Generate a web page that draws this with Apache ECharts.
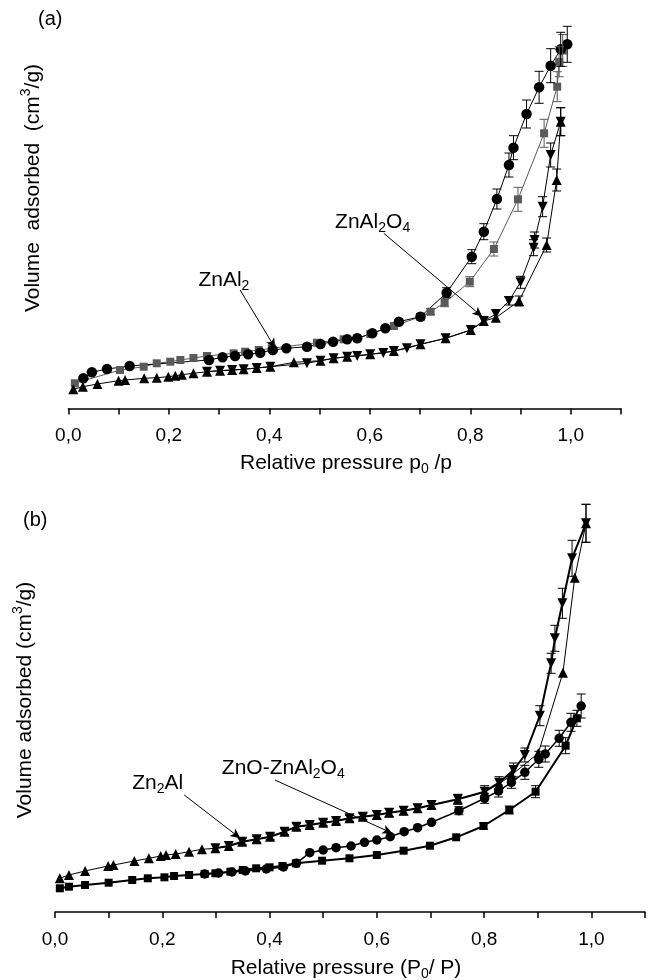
<!DOCTYPE html>
<html><head><meta charset="utf-8">
<script src="https://cdn.jsdelivr.net/npm/echarts@6/dist/echarts.min.js"></script>
<style>html,body{margin:0;padding:0;background:#fff}#c{width:648px;height:980px}</style>
</head><body><div id="c"></div>
<script>
// x tick labels (decimal comma)
const tickLabels = ['0,0','0,2','0,4','0,6','0,8','1,0'];

// Panel (a): [relative pressure, volume (arb. units), error]
const aZnAl2Circles = [[0.030,30.2,0],[0.047,36.2,0],[0.077,39.5,0],[0.122,42.5,0],[0.280,48.5,0],[0.307,51.2,0],[0.332,52.5,0],[0.358,54.2,0],[0.382,55.8,0],[0.407,58.5,0],[0.434,60.2,0],[0.475,61.8,0],[0.502,64.5,0],[0.527,66.8,0],[0.555,69.2,0],[0.575,70.2,0],[0.605,75.2,0],[0.631,80.2,0],[0.658,86.8,0],[0.701,91.8,3],[0.753,115.8,5],[0.803,151.8,7],[0.827,176.8,8],[0.853,209.5,10],[0.877,243.5,12],[0.886,260.8,12],[0.912,294.5,14],[0.937,321.2,16],[0.960,342.8,17],[0.980,359.2,17],[0.993,364.2,18]];
const aZnAl2Squares = [[0.013,25.2,0],[0.103,38.5,0],[0.150,41.8,0],[0.176,45.2,0],[0.203,46.8,0],[0.223,48.5,0],[0.249,50.5,0],[0.276,52.5,0],[0.329,55.2,0],[0.352,56.8,0],[0.379,58.5,0],[0.405,60.2,0],[0.495,65.8,0],[0.548,69.2,0],[0.575,70.2,0],[0.601,74.5,0],[0.648,82.5,0],[0.701,91.8,3],[0.721,96.8,3],[0.749,105.8,4],[0.799,126.8,5],[0.847,159.5,7],[0.895,209.2,12],[0.947,275.2,14],[0.973,321.8,15],[0.977,346.8,15],[0.984,358,16]];
const aZnAl2O4Up = [[0.010,19.2,0],[0.029,21.8,0],[0.058,24.5,0],[0.100,27.8,0],[0.113,28.5,0],[0.151,30.2,0],[0.176,30.8,0],[0.199,31.8,0],[0.213,32.8,0],[0.226,33.8,0],[0.249,35.2,0],[0.276,36.8,0],[0.302,37.8,0],[0.326,38.5,0],[0.349,39.2,0],[0.375,40.5,0],[0.402,41.8,0],[0.449,46.2,0],[0.502,47.8,0],[0.528,50.2,0],[0.555,51.8,0],[0.601,54.2,0],[0.648,57.5,0],[0.701,64.2,0],[0.751,70.2,0],[0.801,78.5,0],[0.827,87.5,0],[0.851,90.8,0],[0.897,107.5,5],[0.952,163.5,7],[0.972,228.5,11],[0.980,286.8,14]];
const aZnAl2O4Down = [[0.276,36.8,0],[0.302,37.8,0],[0.326,38.5,0],[0.349,39.2,0],[0.375,40.5,0],[0.402,41.8,0],[0.475,45.2,0],[0.502,47.8,0],[0.528,50.2,0],[0.555,51.8,0],[0.575,52.5,0],[0.601,54.2,0],[0.627,55.5,0],[0.648,57.5,0],[0.674,60.2,0],[0.701,64.2,0],[0.751,70.2,0],[0.801,78.5,0],[0.827,87.5,0],[0.851,94.5,0],[0.877,107.5,4],[0.900,126.2,6],[0.926,160.8,8],[0.928,168.5,8],[0.944,201.8,10],[0.960,253.5,12],[0.980,286.8,14]];

// Panel (b)
const bZnOSquares = [[0.009,23.7,0],[0.026,25.3,0],[0.056,27,0],[0.100,29.3,0],[0.144,32,0],[0.173,33.7,0],[0.204,34.7,0],[0.222,36,0],[0.250,37,0],[0.279,38,0],[0.299,38.7,0],[0.327,40.3,0],[0.350,42,0],[0.375,43.7,0],[0.400,44.7,0],[0.424,46,0],[0.449,48.7,0],[0.498,51.3,0],[0.549,53.7,0],[0.600,57,0],[0.650,61.3,0],[0.699,66.3,0],[0.748,74.7,0],[0.799,86,3],[0.847,102,4],[0.896,120.3,6],[0.952,166.3,8],[0.973,193.7,8]];
const bZnOCircles = [[0.279,38,0],[0.305,39,0],[0.330,40,0],[0.355,41,0],[0.394,43,0],[0.426,45,0],[0.450,48.7,0],[0.475,59.3,0],[0.500,62,0],[0.524,64.3,0],[0.552,66,0],[0.577,69.7,0],[0.600,72,0],[0.625,75.3,0],[0.651,80.3,0],[0.676,84.3,0],[0.702,89.7,0],[0.753,101.3,4],[0.801,113.7,5],[0.827,121,6],[0.851,129.7,6],[0.876,139.7,7],[0.902,152.7,8],[0.914,158,8],[0.940,173.7,8],[0.962,189.7,9],[0.981,206,12]];
const bZn2AlUp = [[0.009,33.7,0],[0.026,37,0],[0.056,41,0],[0.099,46,0],[0.109,47,0],[0.148,51,0],[0.175,53.7,0],[0.197,56,0],[0.207,57,0],[0.225,58,0],[0.250,60.3,0],[0.274,62.7,0],[0.299,63.7,0],[0.324,66,0],[0.349,70.3,0],[0.376,72.7,0],[0.401,75.3,0],[0.428,80.3,0],[0.450,85.3,0],[0.475,87,0],[0.500,89.3,0],[0.524,91,0],[0.549,93.7,0],[0.574,95.3,0],[0.600,97,0],[0.623,99.3,0],[0.650,101.3,0],[0.676,103.7,0],[0.702,107,0],[0.751,112.7,0],[0.801,120.3,0],[0.828,128,0],[0.851,137,0],[0.901,158.7,0],[0.947,239.3,0],[0.969,334.3,0],[0.990,388.7,19]];
const bZn2AlDown = [[0.299,63.7,0],[0.324,66,0],[0.349,70.3,3],[0.376,72.7,3],[0.401,75.3,3],[0.428,80.3,3],[0.450,85.3,3],[0.475,87,3],[0.500,89.3,3],[0.524,91,3],[0.549,93.7,3],[0.574,95.3,3],[0.600,97,4],[0.623,99.3,4],[0.650,101.3,4],[0.676,103.7,4],[0.702,107,4],[0.751,112.7,5],[0.801,120.3,6],[0.828,129.3,6],[0.855,142,7],[0.876,157,7],[0.904,196.3,10],[0.925,248.7,10],[0.932,273.7,13],[0.946,308.7,15],[0.964,353.7,18],[0.990,388.7,19]];

// annotations (data coords)
const annA = [
  {text:'{n|ZnAl}{s|2}', at:[0.259,128.5], from:[0.342,118.5], to:[0.412,60.2]},
  {text:'{n|ZnAl}{s|2}{n|O}{s|4}', at:[0.531,186.5], from:[0.628,175.2], to:[0.824,91.8]}
];
const annB = [
  {text:'{n|Zn}{s|2}{n|Al}', at:[0.144,129], from:[0.241,117], to:[0.3455,73.7]},
  {text:'{n|ZnO-ZnAl}{s|2}{n|O}{s|4}', at:[0.311,144], from:[0.410,132], to:[0.629,78.7]}
];

const FONT = '"Liberation Sans", Arial, sans-serif';
const chart = echarts.init(document.getElementById('c'), null, {renderer:'canvas'});

function xAxisCfg(gi){
  return {type:'value', gridIndex:gi, min:0, max:1.1, interval:0.1,
    axisLine:{show:true, onZero:false, lineStyle:{color:'#000', width:1.5}},
    axisTick:{show:true, length:6, lineStyle:{color:'#000', width:1.5}},
    splitLine:{show:false},
    axisLabel:{color:'#000', fontFamily:FONT, fontSize:19, margin:18,
      formatter:v=>{const k=Math.round(v*10); return (k%2===0 && k<=10)? tickLabels[k/2] : '';}}
  };
}
function yAxisCfg(gi,max){ return {type:'value', gridIndex:gi, min:0, max:max, show:false}; }

function lineSeries(data, gi, symbol, size, color, lw, rot){
  return {type:'line', xAxisIndex:gi, yAxisIndex:gi, data:data.map(d=>[d[0],d[1]]),
    symbol:symbol, symbolSize:size, symbolRotate:rot||0, showAllSymbol:true,
    itemStyle:{color:color}, lineStyle:{color:color, width:lw}, z:3, animation:false};
}
function errSeries(data, gi, color){
  return {type:'custom', xAxisIndex:gi, yAxisIndex:gi, data:data.filter(d=>d[2]>0),
    z:4, animation:false, silent:true,
    renderItem:(params, api)=>{
      const x=api.value(0), y=api.value(1), e=api.value(2);
      const p1=api.coord([x,y+e]), p2=api.coord([x,y-e]);
      const w=4.5;
      const st={stroke:color, lineWidth:1};
      return {type:'group', children:[
        {type:'line', shape:{x1:p1[0],y1:p1[1],x2:p2[0],y2:p2[1]}, style:st},
        {type:'line', shape:{x1:p1[0]-w,y1:p1[1],x2:p1[0]+w,y2:p1[1]}, style:st},
        {type:'line', shape:{x1:p2[0]-w,y1:p2[1],x2:p2[0]+w,y2:p2[1]}, style:st}
      ]};
    }};
}
function arrowML(anns){
  return {silent:true, symbol:['none','arrow'], symbolSize:[7,10], animation:false,
    lineStyle:{color:'#000', width:1, type:'solid'}, label:{show:false},
    emphasis:{disabled:true},
    data: anns.map(a=>[{coord:a.from},{coord:a.to}])};
}

const gray='#5a5a5a';
const series = [
  lineSeries(aZnAl2Squares,0,'rect',8,gray,1),
  Object.assign(lineSeries(aZnAl2Circles,0,'circle',10.5,'#000',1), {markLine:arrowML(annA)}),
  lineSeries(aZnAl2O4Up,0,'triangle',10,'#000',1),
  lineSeries(aZnAl2O4Down,0,'triangle',10,'#000',1,180),
  errSeries(aZnAl2Squares,0,gray),
  errSeries(aZnAl2Circles,0,'#000'),
  errSeries(aZnAl2O4Up,0,'#000'),
  errSeries(aZnAl2O4Down,0,'#000'),
  lineSeries(bZnOSquares,1,'rect',8,'#000',2),
  Object.assign(lineSeries(bZnOCircles,1,'circle',9.5,'#000',1.5), {markLine:arrowML(annB)}),
  lineSeries(bZn2AlUp,1,'triangle',10,'#000',1),
  lineSeries(bZn2AlDown,1,'triangle',10,'#000',2,180),
  errSeries(bZnOSquares,1,'#000'),
  errSeries(bZnOCircles,1,'#000'),
  errSeries(bZn2AlUp,1,'#000'),
  errSeries(bZn2AlDown,1,'#000')
];

chart.setOption({
  backgroundColor:'#fff', animation:false,
  grid:[{left:68.3, width:552.7, top:8.5, height:400},
        {left:55, width:594.3, top:492, height:420}],
  xAxis:[xAxisCfg(0), xAxisCfg(1)],
  yAxis:[yAxisCfg(0,400), yAxisCfg(1,420)],
  series: series
});

const rich = {n:{fontSize:21, fontFamily:FONT, color:'#000', lineHeight:27, verticalAlign:'middle'},
              s:{fontSize:14, fontFamily:FONT, color:'#000', lineHeight:12, verticalAlign:'bottom'}};
const sup = {n:{fontSize:21, fontFamily:FONT, color:'#000', lineHeight:27},
             p:{fontSize:14, fontFamily:FONT, color:'#000', lineHeight:12, verticalAlign:'top'}};
const graphics = [];
function addAnn(anns, gi){
  anns.forEach(a=>{
    const p = chart.convertToPixel({gridIndex:gi}, a.at);
    graphics.push({type:'text', x:p[0], y:p[1], style:{text:a.text, rich:rich, verticalAlign:'middle', align:'left'}});
  });
}
addAnn(annA,0); addAnn(annB,1);
// panel letters and axis titles
graphics.push({type:'text', x:38, y:19, style:{text:'(a)', font:'20px '+FONT, fill:'#000', verticalAlign:'middle'}});
graphics.push({type:'text', x:23, y:520, style:{text:'(b)', font:'20px '+FONT, fill:'#000', verticalAlign:'middle'}});
graphics.push({type:'text', x:33, y:188, rotation:Math.PI/2, style:{text:'{n|Volume  adsorbed  (cm}{p|3}{n|/g)}', rich:sup, align:'center', verticalAlign:'middle'}});
graphics.push({type:'text', x:25, y:700, rotation:Math.PI/2, style:{text:'{n|Volume adsorbed (cm}{p|3}{n|/g)}', rich:sup, align:'center', verticalAlign:'middle'}});
graphics.push({type:'text', x:346, y:463, style:{text:'{n|Relative pressure p}{s|0}{n| /p}', rich:rich, align:'center', verticalAlign:'middle'}});
graphics.push({type:'text', x:346, y:968, style:{text:'{n|Relative pressure (P}{s|0}{n|/ P)}', rich:rich, align:'center', verticalAlign:'middle'}});
chart.setOption({graphic:graphics});
</script></body></html>
